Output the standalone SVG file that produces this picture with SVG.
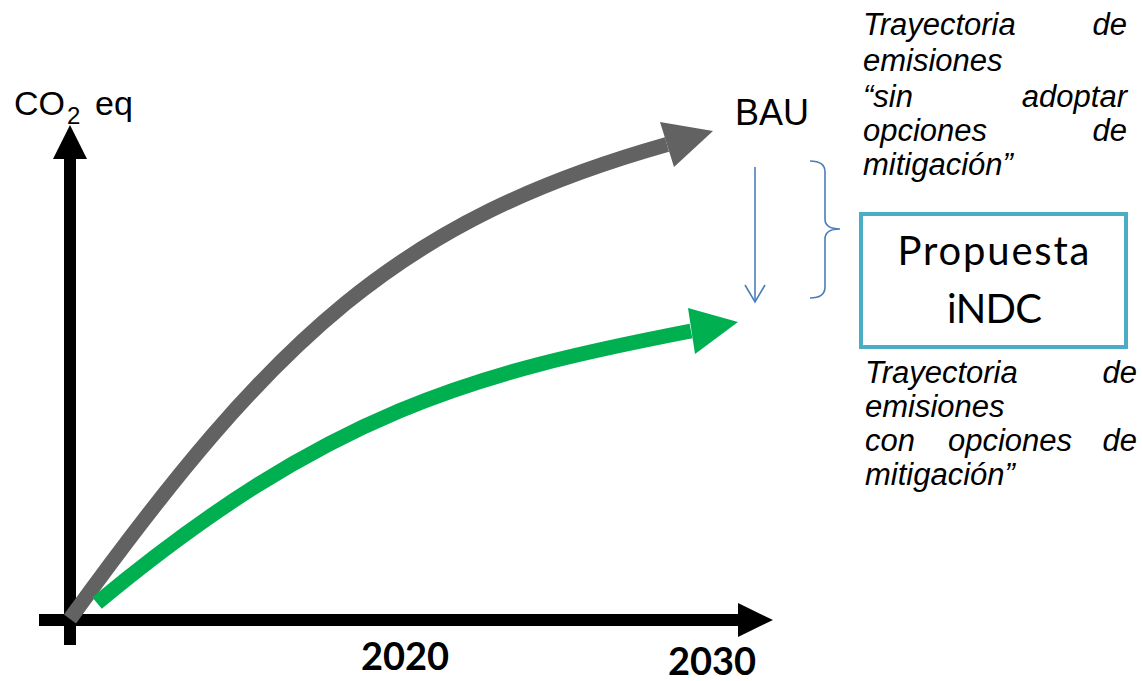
<svg xmlns="http://www.w3.org/2000/svg" width="1142" height="681" viewBox="0 0 1142 681">
<style>
.sans{font-family:"Liberation Sans",Arial,sans-serif;fill:#000}
.it{font-family:"Liberation Sans",Arial,sans-serif;font-style:italic;font-size:31px;fill:#000}
.cal{font-family:Lato,"Liberation Sans",sans-serif;fill:#000}
.blue{fill:none;stroke:#4A7EBB;stroke-width:1.6}
</style>
<rect width="1142" height="681" fill="#fff"/>
<g id="axes">
<rect x="64" y="155" width="12" height="490" fill="#000"/>
<polygon points="70,125 53,159 87,159" fill="#000"/>
<rect x="39" y="614" width="702" height="12" fill="#000"/>
<polygon points="773,620 738,603 738,637" fill="#000"/>
</g>
<g id="connectors">
<g id="bau-curve">
<path d="M70,619 C275,335 400,220 667,144.5" fill="none" stroke="#626262" stroke-width="15" stroke-linecap="butt"/>
<polygon points="713,131 660,122 674,167" fill="#626262"/>
</g>
<g id="indc-curve">
<path d="M97,603 C328,411 475,373 691,331" fill="none" stroke="#00B050" stroke-width="15" stroke-linecap="butt"/>
<polygon points="738,322 688,308 695,354" fill="#00B050"/>
</g>
<g id="reduction-arrow">
<line x1="755" y1="167" x2="755" y2="302" class="blue"/>
<polyline points="745,285 755,302 765,285" class="blue"/>
</g>
<path id="brace" class="blue" d="M810,161 Q825,161 825,172 L825,219 Q825,229 840,229 Q825,229 825,239 L825,287 Q825,298 810,298"/>
</g>
<g id="y-label">
<text class="sans" font-size="34" x="14" y="115">CO</text>
<text class="sans" font-size="24" x="67" y="124">2</text>
<text class="sans" font-size="34" x="95" y="115">eq</text>
</g>
<g id="x-labels">
<text class="cal" font-size="38" font-weight="700" x="361" y="670">2020</text>
<text class="cal" font-size="38" font-weight="700" x="668" y="675">2030</text>
</g>
<g id="bau-label">
<text class="sans" font-size="36" x="735" y="125">BAU</text>
</g>
<g id="bau-description">
<text class="it" x="863" y="35">Trayectoria</text>
<text class="it" x="1127" y="35" text-anchor="end">de</text>
<text class="it" x="863" y="71">emisiones</text>
<text class="it" x="863" y="107">“sin</text>
<text class="it" x="1127" y="107" text-anchor="end">adoptar</text>
<text class="it" x="863" y="141">opciones</text>
<text class="it" x="1127" y="141" text-anchor="end">de</text>
<text class="it" x="863" y="175">mitigación”</text>
</g>
<g id="propuesta-indc">
<rect x="861" y="214" width="265" height="133" fill="#fff" stroke="#4BACC6" stroke-width="4"/>
<text class="cal" font-size="40" x="993.5" y="265" text-anchor="middle" textLength="192" lengthAdjust="spacing">Propuesta</text>
<text class="cal" font-size="40" x="994.5" y="323" text-anchor="middle" textLength="95" lengthAdjust="spacing">iNDC</text>
</g>
<g id="indc-description">
<text class="it" x="865" y="383">Trayectoria</text>
<text class="it" x="1137" y="383" text-anchor="end">de</text>
<text class="it" x="865" y="417">emisiones</text>
<text class="it" x="865" y="451">con</text>
<text class="it" x="948" y="451">opciones</text>
<text class="it" x="1137" y="451" text-anchor="end">de</text>
<text class="it" x="865" y="485">mitigación”</text>
</g>
</svg>
